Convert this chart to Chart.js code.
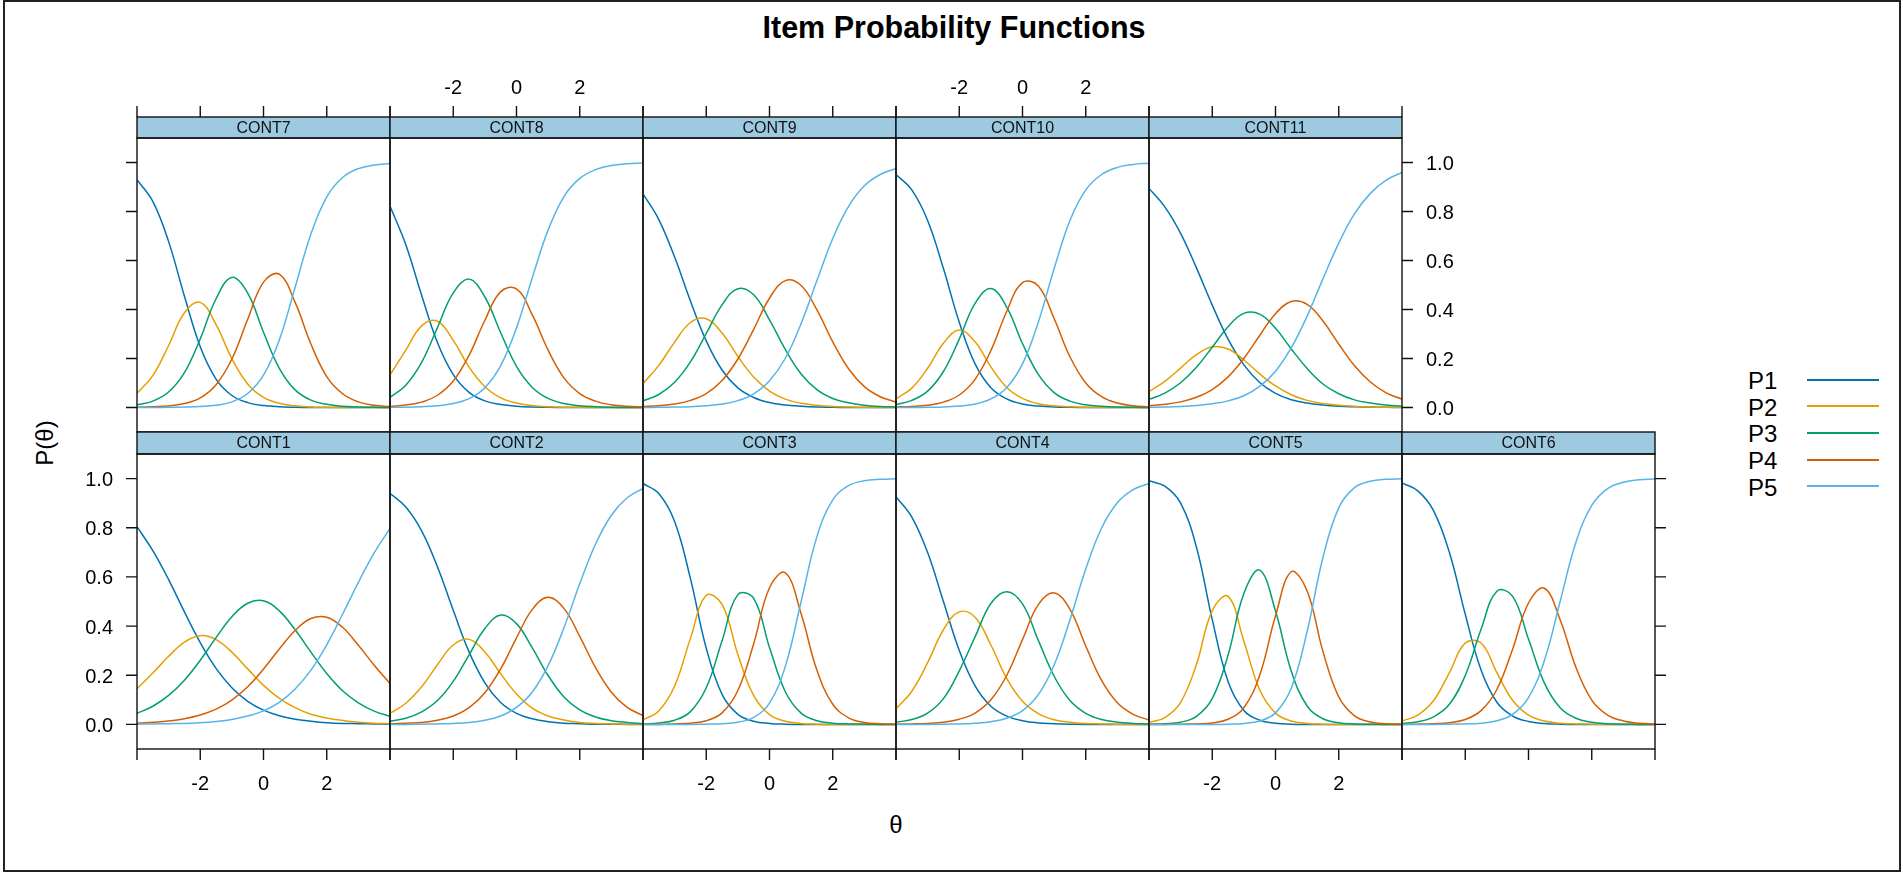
<!DOCTYPE html>
<html>
<head>
<meta charset="utf-8">
<title>Item Probability Functions</title>
<script src="https://cdn.jsdelivr.net/npm/chart.js@4.4.1/dist/chart.umd.min.js"></script>
<style>
  html, body { margin: 0; padding: 0; background: #fff; }
  #fig { position: relative; width: 1903px; height: 872px; overflow: hidden;
         font-family: "Liberation Sans", Arial, sans-serif; color: #000; }
  #frame { position: absolute; left: 3px; top: 0; width: 1898px; height: 872px;
           border: 2px solid #222; box-sizing: border-box; }
  #fig canvas { position: absolute; }
  .txt { position: absolute; white-space: nowrap; }
  #title { left: 0; width: 1908px; top: 12px; text-align: center; font-size: 30.5px; line-height: 30px; font-weight: bold; }
  #xlab { left: 846px; width: 100px; top: 813px; text-align: center; font-size: 24px; line-height: 24px; }
  #ylab { left: 45px; top: 443px; font-size: 24px; line-height: 24px;
          transform: translate(-50%, -50%) rotate(-90deg); }
  .leg-t { font-size: 24px; line-height: 24px; left: 1748px; }
  .leg-l { position: absolute; left: 1807px; width: 72px; height: 0; border-top: 2px solid; }
</style>
</head>
<body>
<div id="fig">
  <div id="frame"></div>
  <div class="txt" id="title">Item Probability Functions</div>
  <div class="txt" id="ylab">P(θ)</div>
  <div class="txt" id="xlab">θ</div>
</div>
<script>
// theta grid the curves were read at
const THETA = [-4, -3.5, -3, -2.5, -2, -1.5, -1, -0.5, 0, 0.5, 1, 1.5, 2, 2.5, 3, 3.5, 4];
const CATS = ['P1', 'P2', 'P3', 'P4', 'P5'];
const X_TICKS = [-4, -2, 0, 2, 4];
const X_TICK_LABELS = [-2, 0, 2];
const Y_TICKS = [0, 0.2, 0.4, 0.6, 0.8, 1.0];
const Y_TICK_LABELS = ['0.0', '0.2', '0.4', '0.6', '0.8', '1.0'];

// one row per category P1..P5
const CONT1 = [
  [.804,.707,.589,.458,.333,.228,.149,.094,.058,.035,.021,.013,.007,.004,.003,.002,.001],
  [.145,.209,.277,.335,.361,.345,.294,.226,.159,.106,.068,.041,.026,.016,.009,.005,.003],
  [.045,.074,.118,.180,.261,.353,.438,.493,.503,.462,.385,.294,.207,.137,.088,.054,.033],
  [.005,.009,.014,.023,.038,.062,.099,.153,.225,.307,.382,.431,.436,.395,.322,.241,.166],
  [.001,.002,.003,.004,.007,.012,.020,.034,.055,.090,.144,.221,.324,.448,.578,.698,.797]
];
const CONT2 = [
  [.940,.884,.787,.641,.464,.295,.169,.089,.045,.023,.011,.005,.003,.001,.001,0,0],
  [.045,.086,.153,.243,.323,.346,.295,.206,.124,.066,.034,.018,.008,.004,.002,.001,.001],
  [.013,.025,.051,.097,.175,.283,.390,.445,.410,.311,.199,.112,.059,.030,.015,.008,.003],
  [.002,.005,.008,.017,.034,.068,.129,.226,.352,.468,.517,.472,.358,.231,.131,.069,.036],
  [0,0,.001,.002,.004,.008,.017,.034,.069,.132,.239,.393,.572,.734,.851,.922,.960]
];
const CONT3 = [
  [.980,.939,.825,.593,.310,.122,.041,.013,.004,.001,0,0,0,0,0,0,0],
  [.018,.055,.156,.350,.525,.488,.284,.117,.040,.013,.004,.001,0,0,0,0,0],
  [.002,.006,.017,.052,.149,.340,.528,.513,.313,.133,.046,.015,.005,.002,.001,0,0],
  [0,0,.002,.005,.015,.047,.138,.328,.556,.617,.450,.220,.082,.027,.008,.003,.001],
  [0,0,0,0,.001,.003,.009,.029,.087,.236,.500,.764,.913,.971,.991,.997,.999]
];
const CONT4 = [
  [.926,.843,.699,.500,.301,.157,.074,.034,.015,.006,.003,.001,0,0,0,0,0],
  [.064,.135,.251,.385,.458,.436,.323,.187,.094,.044,.019,.009,.004,.002,.001,0,0],
  [.009,.020,.046,.105,.218,.356,.492,.540,.490,.342,.196,.097,.045,.020,.009,.004,.002],
  [.001,.002,.004,.009,.021,.046,.100,.199,.345,.487,.535,.468,.319,.179,.088,.041,.018],
  [0,0,0,.001,.002,.005,.011,.025,.056,.121,.242,.425,.632,.799,.902,.955,.980]
];
const CONT5 = [
  [.991,.969,.900,.721,.426,.175,.057,.017,.005,.001,0,0,0,0,0,0,0],
  [.008,.028,.090,.244,.463,.521,.338,.141,.046,.014,.004,.001,0,0,0,0,0],
  [.001,.003,.009,.033,.105,.282,.533,.628,.461,.216,.075,.023,.007,.002,.001,0,0],
  [0,0,.001,.002,.006,.021,.068,.200,.441,.621,.543,.297,.112,.035,.010,.003,.001],
  [0,0,0,0,0,.001,.004,.014,.047,.148,.378,.679,.881,.963,.989,.997,.999]
];
const CONT6 = [
  [.982,.950,.869,.699,.448,.221,.090,.034,.012,.004,.001,0,0,0,0,0,0],
  [.014,.038,.097,.211,.331,.331,.211,.097,.038,.014,.005,.002,.001,0,0,0,0],
  [.004,.011,.031,.082,.199,.387,.542,.521,.347,.169,.068,.025,.009,.003,.001,0,0],
  [0,.001,.003,.007,.020,.056,.142,.307,.494,.554,.426,.232,.099,.038,.014,.005,.002],
  [0,0,0,.001,.002,.005,.015,.041,.109,.259,.500,.741,.891,.959,.985,.995,.998]
];
const CONT7 = [
  [.930,.841,.677,.454,.248,.116,.049,.020,.008,.003,.001,0,0,0,0,0,0],
  [.058,.130,.253,.387,.429,.338,.199,.096,.041,.017,.007,.002,.001,0,0,0,0],
  [.011,.026,.063,.142,.280,.444,.531,.467,.307,.160,.072,.030,.013,.005,.002,.001,0],
  [.001,.003,.006,.016,.039,.093,.198,.360,.512,.544,.429,.259,.126,.056,.023,.009,.004],
  [0,0,.001,.002,.004,.009,.023,.057,.132,.276,.491,.708,.860,.939,.975,.990,.996]
];
const CONT8 = [
  [.822,.664,.458,.265,.134,.062,.027,.012,.005,.002,.001,0,0,0,0,0,0],
  [.132,.234,.333,.352,.274,.165,.085,.039,.018,.008,.003,.001,.001,0,0,0,0],
  [.041,.091,.184,.326,.468,.524,.451,.305,.168,.082,.037,.016,.007,.003,.001,0,0],
  [.004,.010,.022,.050,.108,.213,.356,.473,.484,.378,.234,.121,.057,.026,.011,.005,.002],
  [.001,.001,.003,.007,.016,.036,.081,.171,.325,.530,.725,.861,.935,.971,.988,.995,.998]
];
const CONT9 = [
  [.872,.767,.614,.435,.272,.153,.080,.041,.020,.010,.005,.002,.001,0,0,0,0],
  [.097,.172,.267,.347,.362,.304,.209,.124,.067,.034,.017,.009,.004,.002,.001,0,0],
  [.027,.053,.103,.186,.302,.419,.485,.460,.358,.237,.137,.073,.037,.019,.009,.004,.002],
  [.004,.007,.014,.029,.057,.110,.198,.319,.446,.518,.498,.398,.268,.158,.085,.044,.022],
  [0,.001,.002,.003,.007,.014,.028,.056,.109,.201,.343,.518,.690,.821,.905,.951,.976]
];
const CONT10 = [
  [.951,.888,.763,.567,.348,.178,.081,.035,.014,.006,.002,.001,0,0,0,0,0],
  [.035,.079,.160,.262,.316,.268,.166,.082,.037,.015,.007,.003,.001,0,0,0,0],
  [.012,.029,.067,.147,.279,.425,.486,.410,.261,.135,.061,.026,.011,.005,.002,.001,0],
  [.002,.004,.009,.022,.051,.115,.232,.392,.510,.496,.363,.207,.100,.044,.018,.007,.003],
  [0,0,.001,.002,.006,.014,.035,.081,.178,.348,.567,.763,.888,.951,.980,.992,.997]
];
const CONT11 = [
  [.894,.819,.711,.570,.418,.279,.174,.102,.058,.032,.018,.010,.005,.003,.002,.001,0],
  [.065,.107,.161,.216,.248,.239,.194,.137,.088,.052,.029,.016,.009,.005,.002,.001,.001],
  [.033,.059,.101,.164,.246,.330,.384,.381,.323,.239,.159,.096,.056,.031,.018,.010,.005],
  [.007,.013,.023,.042,.073,.125,.200,.294,.383,.433,.421,.353,.259,.170,.104,.060,.034],
  [.001,.002,.004,.008,.015,.027,.048,.086,.148,.244,.373,.525,.671,.791,.874,.928,.960]
];

const COLORS = ['#0072B2', '#E69F00', '#009E73', '#D55E00', '#56B4E9'];
const STRIP_FILL = '#9ecae1';
const FONT = '"Liberation Sans", Arial, sans-serif';

// lattice layout: bottom row CONT1-6, top row CONT7-11
const ROWS = [
  { strip: 117, top: 138, bottom: 432, xSide: 'top' },
  { strip: 432, top: 454, bottom: 749, xSide: 'bottom' }
];
const COL_X = 137, PANEL_W = 253, TICK = 11;
const PAD = { left: 70, right: 70, top: 72, bottom: 60 };

const PANELS = [
  { name: 'CONT7', data: CONT7, row: 0, col: 0, xLab: false, yLeft: 'ticks' },
  { name: 'CONT8', data: CONT8, row: 0, col: 1, xLab: true },
  { name: 'CONT9', data: CONT9, row: 0, col: 2, xLab: false },
  { name: 'CONT10', data: CONT10, row: 0, col: 3, xLab: true },
  { name: 'CONT11', data: CONT11, row: 0, col: 4, xLab: false, yRight: 'labels' },
  { name: 'CONT1', data: CONT1, row: 1, col: 0, xLab: true, yLeft: 'labels' },
  { name: 'CONT2', data: CONT2, row: 1, col: 1, xLab: false },
  { name: 'CONT3', data: CONT3, row: 1, col: 2, xLab: true },
  { name: 'CONT4', data: CONT4, row: 1, col: 3, xLab: false },
  { name: 'CONT5', data: CONT5, row: 1, col: 4, xLab: true },
  { name: 'CONT6', data: CONT6, row: 1, col: 5, xLab: false, yRight: 'ticks' }
];

// strip, box, ticks and tick labels around each panel
const panelDeco = {
  id: 'panelDeco',
  afterDraw(chart, args, o) {
    const { ctx, chartArea: a, scales: { x, y } } = chart;
    const w = a.right - a.left;
    const sTop = a.top - o.stripH;
    ctx.save();
    ctx.lineWidth = 1.4;
    ctx.strokeStyle = '#111';

    ctx.fillStyle = STRIP_FILL;
    ctx.fillRect(a.left, sTop, w, o.stripH);
    ctx.strokeRect(a.left, sTop, w, o.stripH);
    ctx.fillStyle = '#111';
    ctx.font = '16px ' + FONT;
    ctx.textAlign = 'center';
    ctx.textBaseline = 'middle';
    ctx.fillText(o.name, (a.left + a.right) / 2, sTop + o.stripH / 2 + 1);

    ctx.strokeRect(a.left, a.top, w, a.bottom - a.top);

    ctx.fillStyle = '#000';
    ctx.font = '20px ' + FONT;
    const up = o.xSide === 'top';
    const base = up ? sTop : a.bottom;
    const dir = up ? -1 : 1;
    ctx.beginPath();
    X_TICKS.forEach(v => {
      const px = x.getPixelForValue(v);
      ctx.moveTo(px, base);
      ctx.lineTo(px, base + dir * TICK);
    });
    ctx.stroke();
    if (o.xLab) {
      X_TICK_LABELS.forEach(v => {
        ctx.fillText(String(v), x.getPixelForValue(v), base + (up ? -29 : 35));
      });
    }

    const yAxis = (side, mode) => {
      if (!mode) return;
      const edge = side === 'left' ? a.left : a.right;
      const d = side === 'left' ? -1 : 1;
      ctx.beginPath();
      Y_TICKS.forEach(v => {
        const py = y.getPixelForValue(v);
        ctx.moveTo(edge, py);
        ctx.lineTo(edge + d * TICK, py);
      });
      ctx.stroke();
      if (mode === 'labels') {
        ctx.textAlign = side === 'left' ? 'right' : 'left';
        Y_TICKS.forEach((v, i) => {
          ctx.fillText(Y_TICK_LABELS[i], edge + d * 24, y.getPixelForValue(v) + 2);
        });
      }
    };
    yAxis('left', o.yLeft);
    yAxis('right', o.yRight);
    ctx.restore();
  }
};

const fig = document.getElementById('fig');
window.activeCharts = {};

PANELS.forEach(p => {
  const r = ROWS[p.row];
  const x0 = COL_X + p.col * PANEL_W;
  const h = r.bottom - r.top;
  const cv = document.createElement('canvas');
  cv.width = PANEL_W + PAD.left + PAD.right;
  cv.height = h + PAD.top + PAD.bottom;
  cv.style.left = (x0 - PAD.left) + 'px';
  cv.style.top = (r.top - PAD.top) + 'px';
  fig.appendChild(cv);

  window.activeCharts[p.name] = new Chart(cv.getContext('2d'), {
    type: 'line',
    data: {
      datasets: CATS.map((c, k) => ({
        label: c,
        data: THETA.map((t, i) => ({ x: t, y: p.data[k][i] })),
        borderColor: COLORS[k],
        borderWidth: 1.5,
        pointRadius: 0,
        tension: 0.4,
        fill: false,
        order: CATS.length - k
      }))
    },
    options: {
      responsive: false,
      animation: false,
      events: [],
      layout: { padding: PAD },
      scales: {
        x: { type: 'linear', min: -4, max: 4, display: false },
        y: { type: 'linear', min: -0.1, max: 1.1, display: false }
      },
      plugins: {
        legend: { display: false },
        tooltip: { enabled: false },
        panelDeco: {
          name: p.name,
          stripH: r.top - r.strip,
          xSide: r.xSide,
          xLab: p.xLab,
          yLeft: p.yLeft,
          yRight: p.yRight
        }
      }
    },
    plugins: [panelDeco]
  });
});

// key on the right
CATS.forEach((c, i) => {
  const t = document.createElement('div');
  t.className = 'txt leg-t';
  t.style.top = (369 + i * 26.7) + 'px';
  t.textContent = c;
  fig.appendChild(t);
  const l = document.createElement('div');
  l.className = 'leg-l';
  l.style.top = (378.5 + i * 26.7) + 'px';
  l.style.borderColor = COLORS[i];
  fig.appendChild(l);
});
</script>
</body>
</html>
